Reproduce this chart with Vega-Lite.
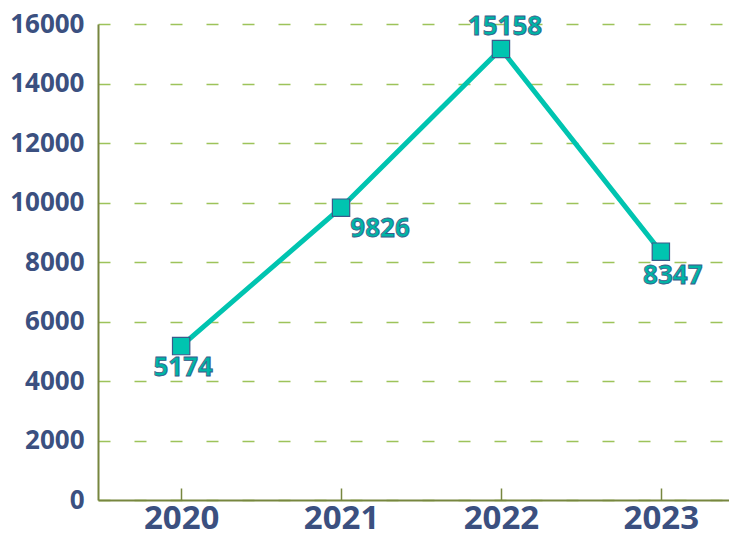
{
  "$schema": "https://vega.github.io/schema/vega-lite/v6.json",
  "autosize": "none",
  "width": 646,
  "height": 476,
  "padding": {"left": 98, "top": 24, "right": 0, "bottom": 38},
  "background": "white",
  "config": {"view": {"stroke": null}, "font": "Open Sans"},
  "data": {"values": [
    {"year": "2020", "value": 5174},
    {"year": "2021", "value": 9826},
    {"year": "2022", "value": 15158},
    {"year": "2023", "value": 8347}
  ]},
  "encoding": {
    "x": {"field": "year", "type": "ordinal", "scale": {"type": "point", "padding": 0.52},
      "axis": {"title": null, "labelAngle": 0, "labelFont": "Open Sans", "labelFontWeight": "bold", "labelFontSize": 33, "labelColor": "#3b5080", "domainColor": "#77863f", "domainWidth": 2, "tickColor": "#77863f", "tickSize": -12, "tickWidth": 1.5, "labelPadding": 14, "grid": false}},
    "y": {"field": "value", "type": "quantitative", "scale": {"domain": [0, 16000]},
      "axis": {"title": null, "values": [0,2000,4000,6000,8000,10000,12000,14000,16000], "labelOverlap": false, "format": "d", "labelFont": "Open Sans", "labelFontWeight": "bold", "labelFontSize": 26, "labelColor": "#3b5080", "domainColor": "#77863f", "domainWidth": 2, "ticks": false, "labelPadding": 14, "grid": true, "gridColor": "#9dc35a", "gridDash": [12, 24], "gridWidth": 1.5}}
  },
  "layer": [
    {"mark": {"type": "line", "color": "#00c4b0", "strokeWidth": 5}},
    {"mark": {"type": "point", "shape": "square", "size": 300, "filled": true, "fill": "#00c4b0", "stroke": "#3b5a8a", "strokeWidth": 1.2, "opacity": 1}},
    {"transform": [{"filter": "datum.year == '2020'"}], "mark": {"type": "text", "dx": 2, "dy": 22, "fontSize": 26, "fontWeight": "bold", "fill": "#00b5a5", "stroke": "#3b5a8a", "strokeWidth": 0.8, "baseline": "middle"}, "encoding": {"text": {"field": "value", "type": "quantitative", "format": "d"}}},
    {"transform": [{"filter": "datum.year == '2021'"}], "mark": {"type": "text", "dx": 39, "dy": 21, "fontSize": 26, "fontWeight": "bold", "fill": "#00b5a5", "stroke": "#3b5a8a", "strokeWidth": 0.8, "baseline": "middle"}, "encoding": {"text": {"field": "value", "type": "quantitative", "format": "d"}}},
    {"transform": [{"filter": "datum.year == '2022'"}], "mark": {"type": "text", "dx": 4, "dy": -22, "fontSize": 26, "fontWeight": "bold", "fill": "#00b5a5", "stroke": "#3b5a8a", "strokeWidth": 0.8, "baseline": "middle"}, "encoding": {"text": {"field": "value", "type": "quantitative", "format": "d"}}},
    {"transform": [{"filter": "datum.year == '2023'"}], "mark": {"type": "text", "dx": 12, "dy": 24, "fontSize": 26, "fontWeight": "bold", "fill": "#00b5a5", "stroke": "#3b5a8a", "strokeWidth": 0.8, "baseline": "middle"}, "encoding": {"text": {"field": "value", "type": "quantitative", "format": "d"}}}
  ]
}
